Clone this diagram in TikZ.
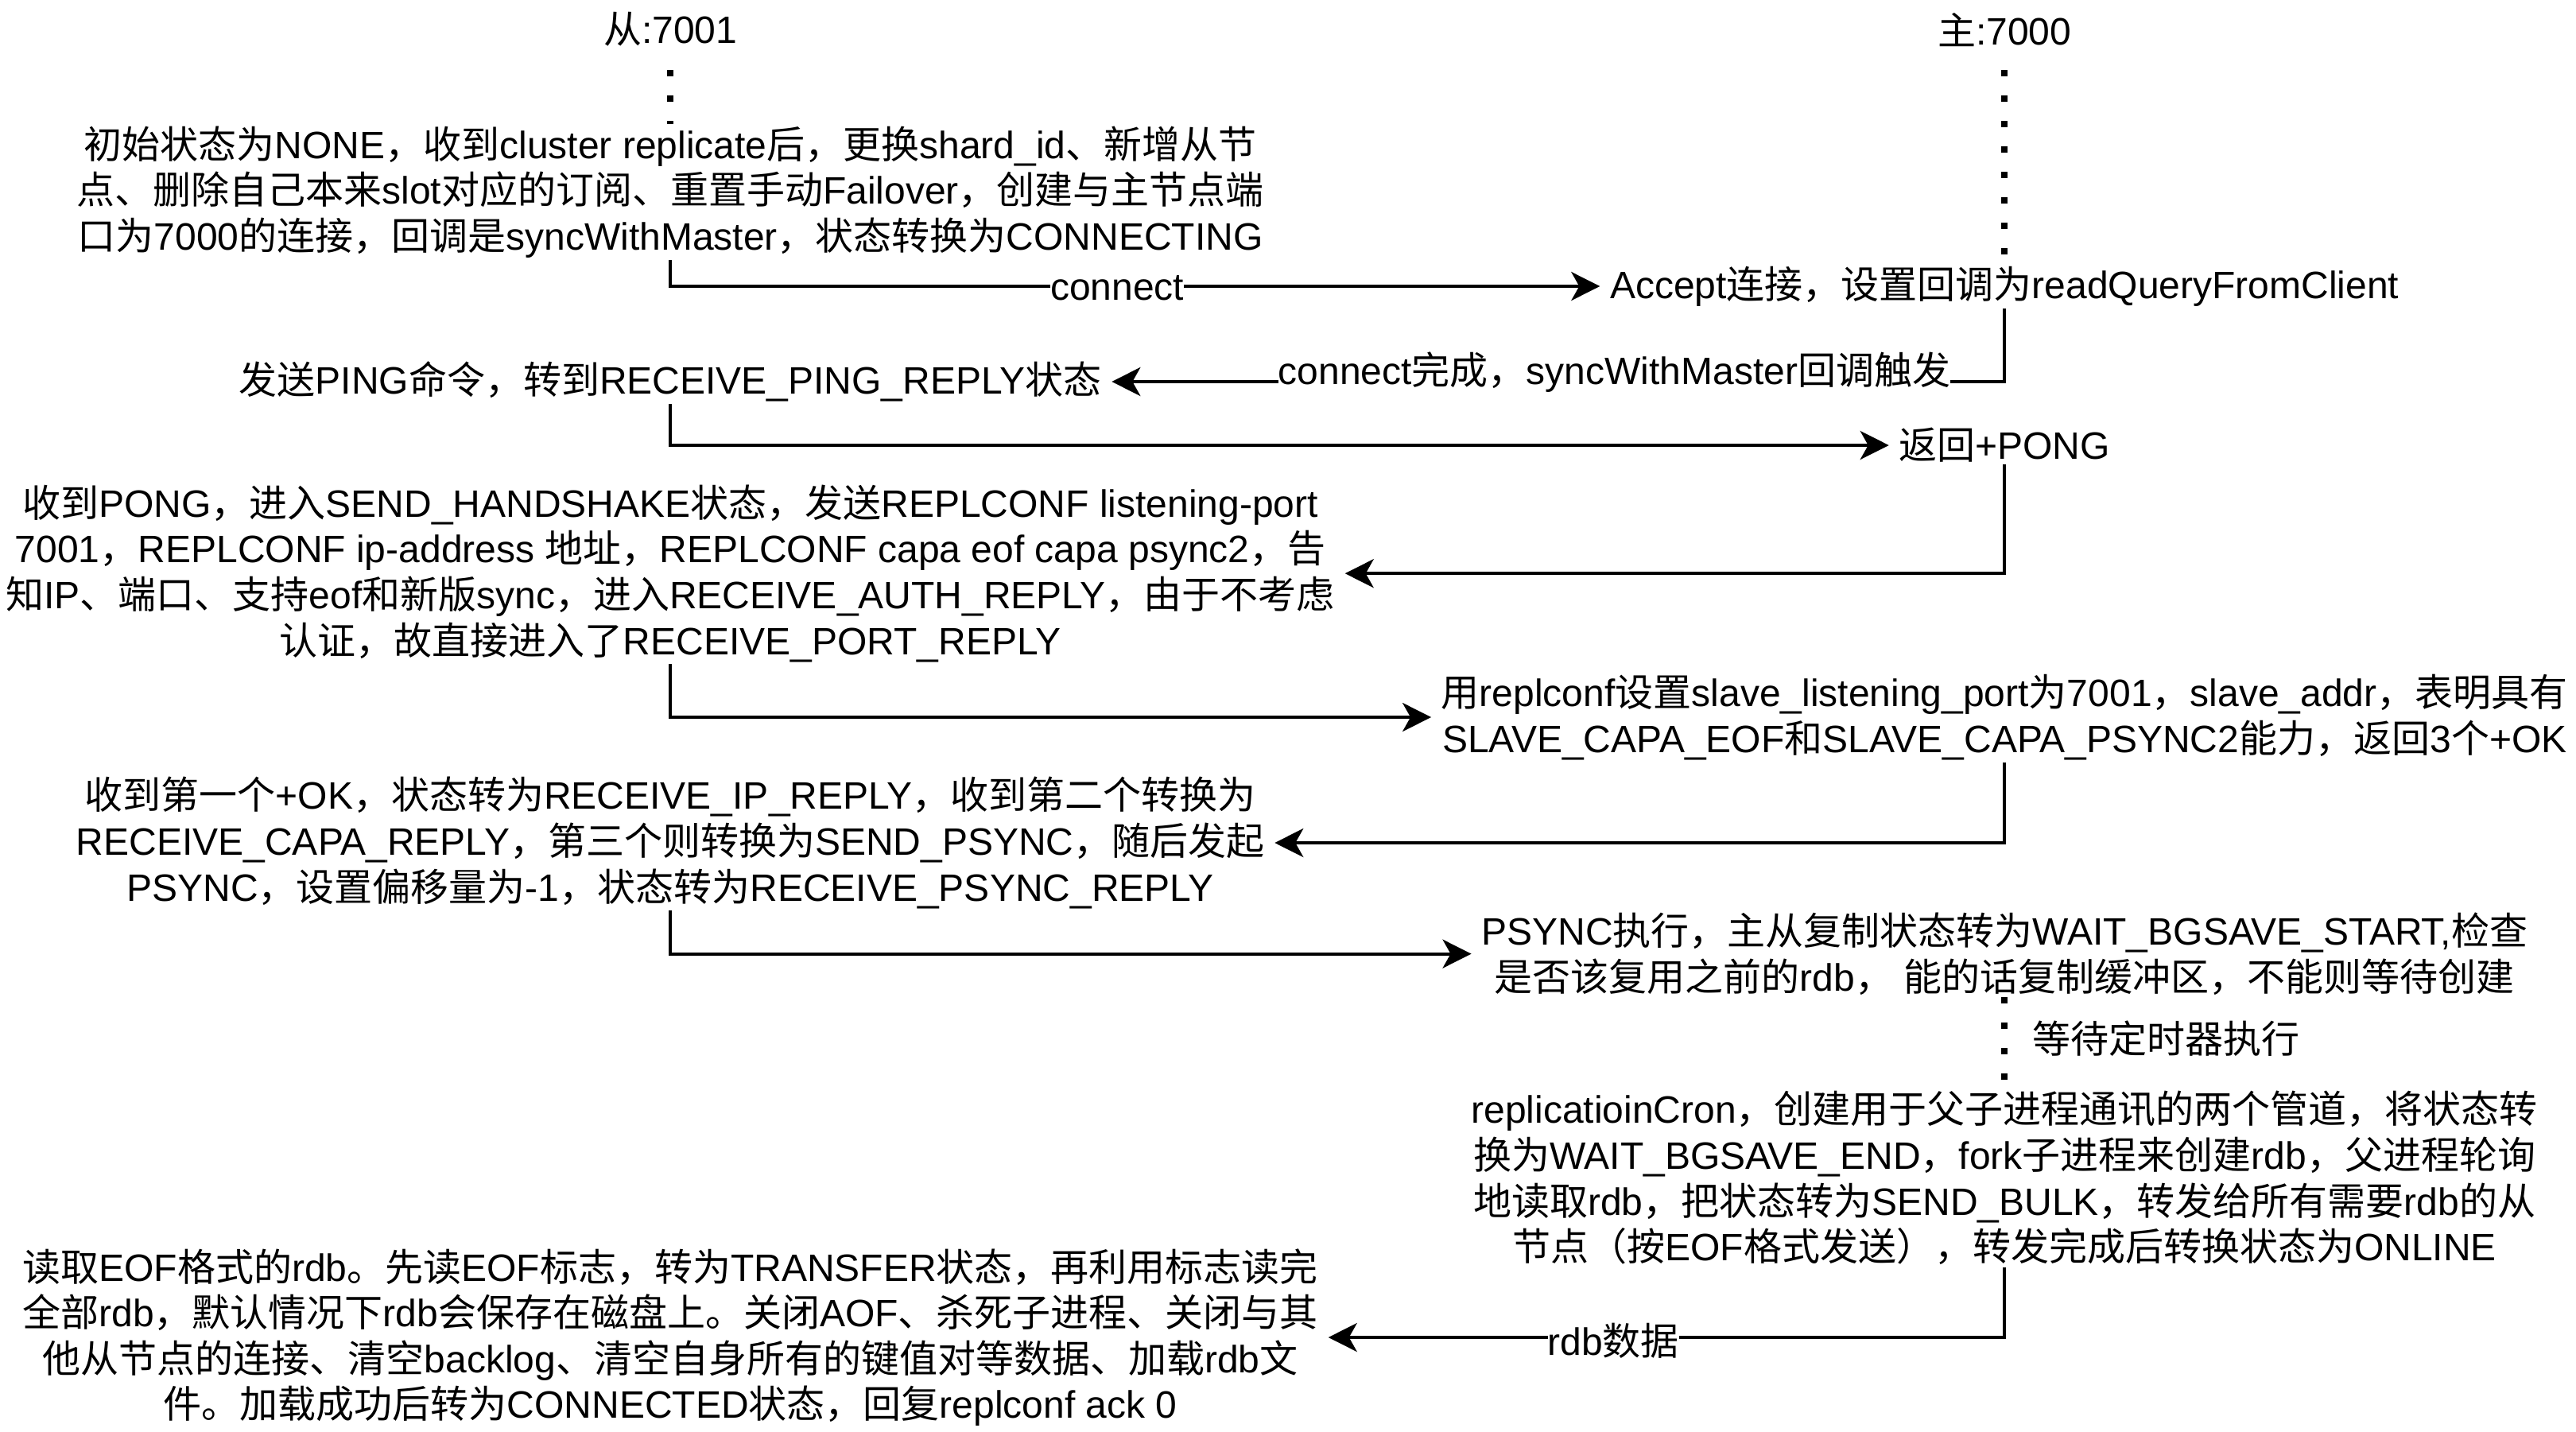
\documentclass[tikz,border=0pt]{standalone}
\usepackage{fontspec}
\setmainfont{Liberation Sans}
\newfontfamily\cjkfam{Noto Sans CJK SC}
\newfontfamily\latfam{Liberation Sans}
\usetikzlibrary{arrows.meta}
\newcount\mycnt
\def\setcjkrange#1#2{\mycnt=#1\relax\loop\XeTeXcharclass\mycnt=1\relax\advance\mycnt by 1\relax\ifnum\mycnt<#2\relax\repeat}
\setcjkrange{"3000}{"3040}
\setcjkrange{"4E00}{"A000}
\setcjkrange{"FF00}{"FFF0}
\XeTeXinterchartoks 0 1 = {\cjkfam}
\XeTeXinterchartoks 4095 1 = {\cjkfam}
\XeTeXinterchartoks 1 0 = {\latfam}
\XeTeXinterchartoks 1 4095 = {\latfam}
\XeTeXinterchartokenstate=1
\tikzset{
  txt/.style={font=\fontsize{12}{14.4}\selectfont, align=center, inner xsep=3pt, inner ysep=0.5pt},
  ttl/.style={font=\fontsize{12}{14.4}\selectfont, inner sep=0pt, minimum height=25pt},
  conn/.style={line width=1pt, -{Stealth[length=9pt,width=9pt,inset=2.5pt]}},
  life/.style={line width=2pt, dash pattern=on 2pt off 6pt},
  lbl/.style={font=\fontsize{12}{14.4}\selectfont, fill=white, inner xsep=0pt, inner ysep=2pt}
}
\begin{document}
\begin{tikzpicture}[x=1pt,y=-1pt]
\fill[white] (0,0) rectangle (810,450);
\useasboundingbox (0,0) rectangle (810,450);

% titles
\node[ttl] (s0) at (210.8,9.3) {从:7001};
\node[ttl] (m0) at (630.3,9.3) {主:7000};

% slave side
\node[txt] (s1) at (210.8,60.4) {初始状态为NONE，收到cluster replicate后，更换shard\_id、新增从节\\点、删除自己本来slot对应的订阅、重置手动Failover，创建与主节点端\\口为7000的连接，回调是syncWithMaster，状态转换为CONNECTING};
\node[txt] (sp) at (210.8,120) {发送PING命令，转到RECEIVE\_PING\_REPLY状态};
\node[txt] (s2) at (210.8,180.3) {收到PONG，进入SEND\_HANDSHAKE状态，发送REPLCONF listening-port\\7001，REPLCONF ip-address 地址，REPLCONF capa eof capa psync2，告\\知IP、端口、支持eof和新版sync，进入RECEIVE\_AUTH\_REPLY，由于不考虑\\认证，故直接进入了RECEIVE\_PORT\_REPLY};
\node[txt] (s3) at (210.8,265) {收到第一个+OK，状态转为RECEIVE\_IP\_REPLY，收到第二个转换为\\RECEIVE\_CAPA\_REPLY，第三个则转换为SEND\_PSYNC，随后发起\\PSYNC，设置偏移量为-1，状态转为RECEIVE\_PSYNC\_REPLY};
\node[txt] (s4) at (210.8,420.5) {读取EOF格式的rdb。先读EOF标志，转为TRANSFER状态，再利用标志读完\\全部rdb，默认情况下rdb会保存在磁盘上。关闭AOF、杀死子进程、关闭与其\\他从节点的连接、清空backlog、清空自身所有的键值对等数据、加载rdb文\\件。加载成功后转为CONNECTED状态，回复replconf ack 0};

% master side
\node[txt] (m1) at (630.3,90) {Accept连接，设置回调为readQueryFromClient};
\node[txt] (m2) at (630.3,140) {返回+PONG};
\node[txt] (m3) at (630.3,225.5) {用replconf设置slave\_listening\_port为7001，slave\_addr，表明具有\\SLAVE\_CAPA\_EOF和SLAVE\_CAPA\_PSYNC2能力，返回3个+OK};
\node[txt] (m4) at (630.3,299.9) {PSYNC执行，主从复制状态转为WAIT\_BGSAVE\_START,检查\\是否该复用之前的rdb， 能的话复制缓冲区，不能则等待创建};
\node[txt] (m5) at (630.3,370.4) {replicatioinCron，创建用于父子进程通讯的两个管道，将状态转\\换为WAIT\_BGSAVE\_END，fork子进程来创建rdb，父进程轮询\\地读取rdb，把状态转为SEND\_BULK，转发给所有需要rdb的从\\节点（按EOF格式发送），转发完成后转换状态为ONLINE};

% lifelines (dotted)
\draw[life] (s0.south) -- (s1.north);
\draw[life] (m0.south) -- (m1.north);
\draw[life] (m4.south) -- (m5.north);
\node[font=\fontsize{12}{14.4}\selectfont, inner sep=0pt, anchor=west] (wt) at (639,326.5) {等待定时器执行};

% messages
\draw[conn] (s1.south) |- (m1.west);
\draw[conn] (m1.south) |- (sp.east);
\draw[conn] (sp.south) |- (m2.west);
\draw[conn] (m2.south) |- (s2.east);
\draw[conn] (s2.south) |- (m3.west);
\draw[conn] (m3.south) |- (s3.east);
\draw[conn] (s3.south) |- (m4.west);
\draw[conn] (m5.south) |- (s4.east);

% labels
\node[lbl] (l1) at (351.3,90.6) {connect};
\node[lbl] (l2) at (507.6,117) {connect完成，syncWithMaster回调触发};
\node[lbl] (l3) at (507.3,421.5) {rdb数据};
\end{tikzpicture}
\end{document}
